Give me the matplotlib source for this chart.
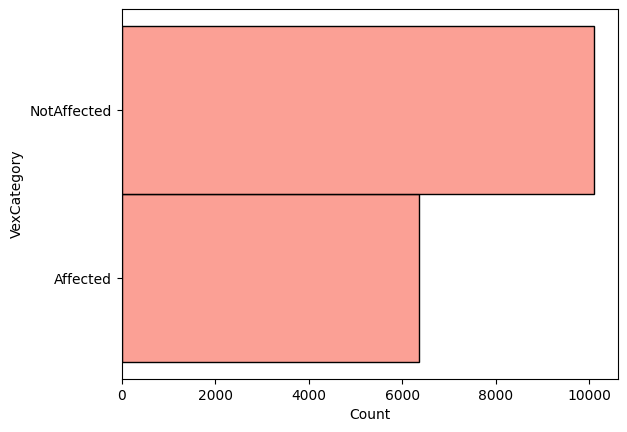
import matplotlib
matplotlib.use("Agg")
import matplotlib.pyplot as plt
from matplotlib.colors import to_rgba

# counts per category
categories = ["Affected", "NotAffected"]
counts = [6364, 10107]

fig = plt.figure(figsize=(6.27, 4.32), dpi=100)
ax = fig.add_axes([122 / 627, 1 - 379 / 432, (618 - 122) / 627, (379 - 9.3) / 432])

# alpha only on the face, edges stay solid black
ax.barh(categories, counts, height=1.0, color=to_rgba("salmon", 0.75),
        edgecolor="black", linewidth=1)
ax.set_xlabel("Count")
ax.set_ylabel("VexCategory")
ax.margins(x=0.05, y=0.05)
ax.set_xlim(0, None)

fig.savefig("out.png", dpi=100)
